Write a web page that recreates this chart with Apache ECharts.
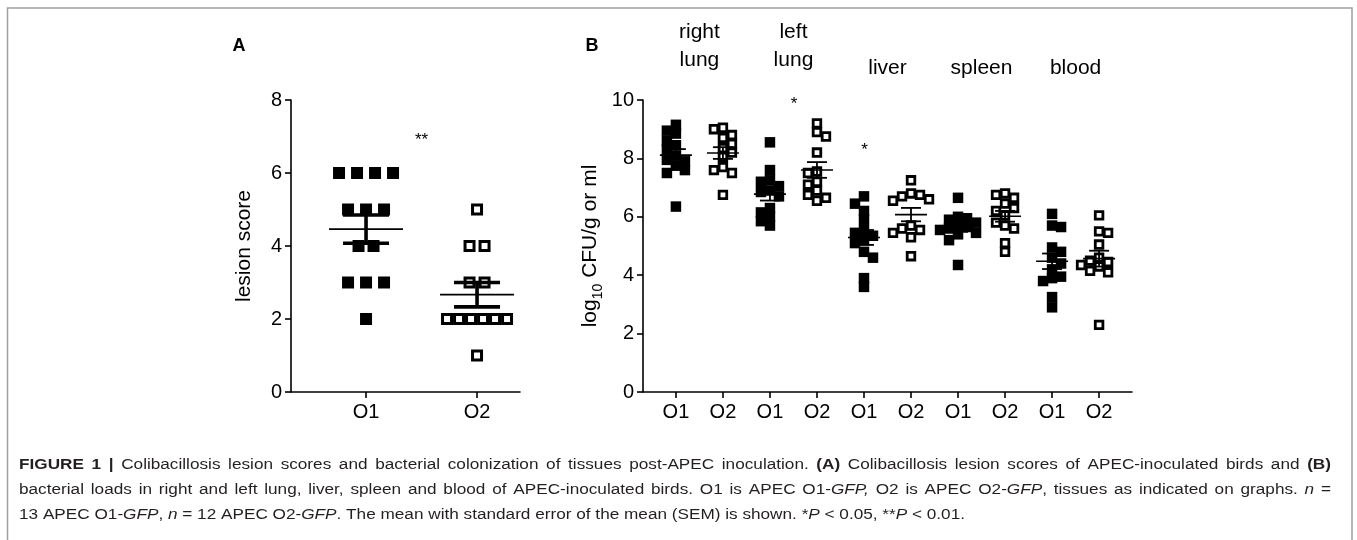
<!DOCTYPE html>
<html><head><meta charset="utf-8">
<script src="https://cdn.jsdelivr.net/npm/echarts@6.0.0/dist/echarts.min.js"></script>
<style>html,body{margin:0;padding:0;background:#fff}#c{width:1357px;height:540px}</style>
</head><body><div id="c"></div>
<script>
// ---------- Panel A data ----------
const lesionCats = ['O1', 'O2'];
const lesionO1 = [6, 6, 6, 6, 5, 5, 5, 4, 4, 3, 3, 3, 2];
const lesionO2 = [5, 4, 4, 3, 3, 2, 2, 2, 2, 2, 2, 1];
const lesionTicks = [0, 2, 4, 6, 8];

// ---------- Panel B data ----------
const tissueLabels = [['right', 'lung'], ['left', 'lung'], ['liver'], ['spleen'], ['blood']];
const strainLabels = ['O1', 'O2', 'O1', 'O2', 'O1', 'O2', 'O1', 'O2', 'O1', 'O2'];
const rightLungO1 = [9.15, 8.95, 8.85, 8.6, 8.45, 8.3, 8.1, 7.95, 7.9, 7.75, 7.6, 7.5, 6.35];
const rightLungO2 = [9.05, 9.0, 8.8, 8.7, 8.5, 8.35, 8.2, 8.05, 7.7, 7.6, 7.5, 6.75];
const leftLungO1 = [8.55, 7.6, 7.25, 7.2, 7.05, 6.9, 6.85, 6.7, 6.3, 6.15, 6.0, 5.85, 5.7];
const leftLungO2 = [9.2, 8.9, 8.75, 8.2, 7.55, 7.5, 7.2, 7.1, 6.9, 6.75, 6.65, 6.55];
const liverO1 = [6.7, 6.45, 6.2, 5.9, 5.55, 5.45, 5.35, 5.2, 5.1, 4.8, 4.6, 3.9, 3.6];
const liverO2 = [7.25, 6.8, 6.75, 6.7, 6.6, 6.55, 5.7, 5.6, 5.55, 5.45, 5.3, 4.65];
const spleenO1 = [6.65, 6.0, 5.95, 5.9, 5.8, 5.7, 5.65, 5.6, 5.55, 5.45, 5.4, 5.2, 4.35];
const spleenO2 = [6.8, 6.75, 6.65, 6.45, 6.3, 6.2, 6.05, 5.8, 5.7, 5.6, 5.1, 4.8];
const bloodO1 = [6.1, 5.7, 5.65, 4.95, 4.8, 4.6, 4.4, 4.2, 3.95, 3.9, 3.8, 3.25, 2.9];
const bloodO2 = [6.05, 5.5, 5.45, 5.05, 4.6, 4.5, 4.45, 4.35, 4.3, 4.15, 4.1, 2.3];
const cfuTicks = [0, 2, 4, 6, 8, 10];

// significance marks: [group position (x), y value, text]
const sigA = [[1.5, 7.0, '**']];
const sigB = [[3.5, 10.0, '*'], [5.0, 8.4, '*']];

// ---------- Caption ----------
const captionLines = [
  [['b', 'FIGURE 1 |'], ['n', ' Colibacillosis lesion scores and bacterial colonization of tissues post-APEC inoculation. '], ['b', '(A)'], ['n', ' Colibacillosis lesion scores of APEC-inoculated birds and '], ['b', '(B)']],
  [['n', 'bacterial loads in right and left lung, liver, spleen and blood of APEC-inoculated birds. O1 is APEC O1-'], ['i', 'GFP,'], ['n', ' O2 is APEC O2-'], ['i', 'GFP'], ['n', ', tissues as indicated on graphs. '], ['i', 'n'], ['n', ' =']],
  [['n', '13 APEC O1-'], ['i', 'GFP'], ['n', ', '], ['i', 'n'], ['n', ' = 12 APEC O2-'], ['i', 'GFP'], ['n', '. The mean with standard error of the mean (SEM) is shown. *'], ['i', 'P'], ['n', ' < 0.05, **'], ['i', 'P'], ['n', ' < 0.01.']]
];

// ================= layout =================
const FONT = '"Liberation Sans", Arial, sans-serif';
const gA = { left: 291, top: 100, width: 229, height: 292 };
const gB = { left: 643, top: 100, width: 489, height: 292 };
const xA = { min: 0.324, max: 0.324 + 229 / 111 };
const xB = { min: 0.3, max: 10.7 };
const pxXA = gA.width / (xA.max - xA.min);
const pxYA = gA.height / 8;
const pxXB = gB.width / (xB.max - xB.min);
const pxYB = gB.height / 10;

function mean(a) { return a.reduce((s, v) => s + v, 0) / a.length; }
function sem(a) { const m = mean(a); const v = a.reduce((s, x) => s + (x - m) * (x - m), 0) / (a.length - 1); return Math.sqrt(v / a.length); }

// Panel A: spread identical values in a row
function rowSpread(values, xc) {
  const groups = {};
  values.forEach((v, i) => { (groups[v] = groups[v] || []).push(i); });
  const out = [];
  Object.keys(groups).forEach(k => {
    const idx = groups[k]; const n = idx.length;
    const sp = n >= 5 ? 12 : (n === 2 ? 15 : 18);
    idx.forEach((ii, j) => { out.push([xc + ((j - (n - 1) / 2) * sp) / pxXA, values[ii]]); });
  });
  return out;
}

// Panel B: simple beeswarm in pixel space
function swarm(values, xc) {
  const order = values.map((v, i) => i).sort((a, b) => values[b] - values[a]);
  const placed = []; const out = [];
  const s = 8.5, step = 4.5;
  order.forEach((i, n) => {
    const y = values[i] * pxYB;
    const dir = n % 2 ? -1 : 1;
    let best = 0, bestScore = Infinity;
    for (let k = 0; k < 9; k++) {
      const cand = k === 0 ? 0 : (k % 2 ? dir : -dir) * Math.ceil(k / 2) * step;
      let ov = 0;
      placed.forEach(p => { const dx = Math.abs(p.x - cand), dy = Math.abs(p.y - y); if (dx < s && dy < s) ov += (s - dx) * (s - dy); });
      if (ov === 0) { best = cand; bestScore = 0; break; }
      const sc = ov + Math.abs(cand) * 2;
      if (sc < bestScore) { bestScore = sc; best = cand; }
    }
    placed.push({ x: best, y });
    out.push([xc + best / pxXB, values[i]]);
  });
  return out;
}

const groupsB = [rightLungO1, rightLungO2, leftLungO1, leftLungO2, liverO1, liverO2, spleenO1, spleenO2, bloodO1, bloodO2];
const ptsA1 = rowSpread(lesionO1, 1);
const ptsA2 = rowSpread(lesionO2, 2);
let ptsB1 = [], ptsB2 = [];
groupsB.forEach((g, i) => { const p = swarm(g, i + 1); if (i % 2 === 0) ptsB1 = ptsB1.concat(p); else ptsB2 = ptsB2.concat(p); });
const statsA = [[1, mean(lesionO1), sem(lesionO1)], [2, mean(lesionO2), sem(lesionO2)]];
const statsB = groupsB.map((g, i) => [i + 1, mean(g), sem(g)]);

function meanSem(hwMean, hwCap, lwMean, lwSem) {
  return function (params, api) {
    const x = api.value(0), m = api.value(1), se = api.value(2);
    const c = api.coord([x, m]), hi = api.coord([x, m + se]), lo = api.coord([x, m - se]);
    const st = { stroke: '#000', lineWidth: lwSem };
    return { type: 'group', children: [
      { type: 'line', shape: { x1: c[0] - hwMean, y1: c[1], x2: c[0] + hwMean, y2: c[1] }, style: { stroke: '#000', lineWidth: lwMean } },
      { type: 'line', shape: { x1: c[0], y1: hi[1], x2: c[0], y2: lo[1] }, style: st },
      { type: 'line', shape: { x1: c[0] - hwCap, y1: hi[1], x2: c[0] + hwCap, y2: hi[1] }, style: st },
      { type: 'line', shape: { x1: c[0] - hwCap, y1: lo[1], x2: c[0] + hwCap, y2: lo[1] }, style: st }
    ] };
  };
}

const axLine = { show: true, onZero: false, lineStyle: { color: '#000', width: 1.6 } };
const axTick = { show: true, length: 6, lineStyle: { color: '#000', width: 1.6 } };

// ----- graphic: frame, panel letters, tissue labels, asterisks, caption -----
const graphic = [];
graphic.push({ type: 'rect', shape: { x: 7.5, y: 8, width: 1344.5, height: 560 }, style: { fill: 'none', stroke: '#a0a0a0', lineWidth: 1.5 }, silent: true });
function txt(x, y, text, size, weight, align, va) {
  graphic.push({ type: 'text', x: x, y: y, silent: true, style: { text: text, fontSize: size, fontWeight: weight || 'normal', fontFamily: FONT, fill: '#000', align: align || 'center', verticalAlign: va || 'middle', textAlign: align || 'center', textVerticalAlign: va || 'middle' } });
}
txt(239, 46, 'A', 18, 'bold');
txt(592, 46, 'B', 18, 'bold');
const pxA = v => gA.left + (v - xA.min) * pxXA;
const pyA = v => gA.top + gA.height - v * pxYA;
const pxB = v => gB.left + (v - xB.min) * pxXB;
const pyB = v => gB.top + gB.height - v * pxYB;
tissueLabels.forEach((t, i) => {
  const cx = pxB(2 * i + 1.5);
  if (t.length === 2) { txt(cx, 32, t[0], 21); txt(cx, 60, t[1], 21); }
  else txt(cx, 68, t[0], 21);
});
sigA.forEach(s => txt(pxA(s[0]), pyA(s[1]) + 4, s[2], 17));
sigB.forEach(s => txt(pxB(s[0]) + 0.5, pyB(s[1]) + 4, s[2], 17));

// caption (first two lines justified)
const cv = document.createElement('canvas').getContext('2d');
function fontStr(st, size) { return (st === 'i' ? 'italic ' : '') + (st === 'b' ? 'bold ' : '') + size + 'px ' + FONT; }
function wordsOf(line) {
  const words = []; let cur = null;
  line.forEach(([st, t]) => {
    const parts = t.split(' ');
    parts.forEach((p, j) => {
      if (j > 0 || cur === null) { cur = []; words.push(cur); }
      if (p.length) cur.push({ t: p, st });
    });
  });
  return words.filter(w => w.length);
}
const capSize = 15.5;
function wWidth(w) { return w.reduce((s, p) => { cv.font = fontStr(p.st, capSize); return s + cv.measureText(p.t).width; }, 0); }
const capL = 19, capR = 1331, cap3End = 965;
cv.font = fontStr('n', capSize); const spaceW = cv.measureText(' ').width;
const w3 = wordsOf(captionLines[2]);
const nat3 = w3.reduce((s, w) => s + wWidth(w), 0) + spaceW * (w3.length - 1);
const sx = Math.max(0.8, Math.min(1.2, (cap3End - capL) / nat3));
const capYs = [465, 490, 515];
captionLines.forEach((line, li) => {
  const words = wordsOf(line);
  const widths = words.map(w => wWidth(w) * sx);
  const tot = widths.reduce((a, b) => a + b, 0);
  const gap = li < 2 ? (capR - capL - tot) / (words.length - 1) : spaceW * sx;
  let x = capL;
  words.forEach((w, wi) => {
    let xx = x;
    w.forEach(p => {
      graphic.push({ type: 'text', x: xx, y: capYs[li], scaleX: sx, silent: true, style: { text: p.t, fontSize: capSize, fontFamily: FONT, fontWeight: p.st === 'b' ? 'bold' : 'normal', fontStyle: p.st === 'i' ? 'italic' : 'normal', fill: '#231f20', align: 'left', verticalAlign: 'middle', textAlign: 'left', textVerticalAlign: 'middle' } });
      cv.font = fontStr(p.st, capSize); xx += cv.measureText(p.t).width * sx;
    });
    x += widths[wi] + gap;
  });
});

const chart = echarts.init(document.getElementById('c'), null, { renderer: 'canvas' });
chart.setOption({
  animation: false,
  backgroundColor: '#fff',
  textStyle: { fontFamily: FONT, color: '#000' },
  grid: [
    { left: gA.left, top: gA.top, width: gA.width, height: gA.height },
    { left: gB.left, top: gB.top, width: gB.width, height: gB.height }
  ],
  xAxis: [
    { gridIndex: 0, type: 'value', min: xA.min, max: xA.max, axisLine: axLine, axisTick: Object.assign({ customValues: [1, 2] }, axTick),
      axisLabel: { customValues: [1, 2], formatter: v => lesionCats[Math.round(v) - 1], fontSize: 20, color: '#000', margin: 10, fontFamily: FONT }, splitLine: { show: false } },
    { gridIndex: 1, type: 'value', min: xB.min, max: xB.max, axisLine: axLine, axisTick: Object.assign({ customValues: strainLabels.map((s, i) => i + 1) }, axTick),
      axisLabel: { customValues: strainLabels.map((s, i) => i + 1), formatter: v => strainLabels[Math.round(v) - 1], fontSize: 20, color: '#000', margin: 10, fontFamily: FONT }, splitLine: { show: false } }
  ],
  yAxis: [
    { gridIndex: 0, type: 'value', min: lesionTicks[0], max: lesionTicks[lesionTicks.length - 1], interval: 2, axisLine: axLine, axisTick: axTick,
      axisLabel: { fontSize: 20, color: '#000', margin: 9, fontFamily: FONT }, splitLine: { show: false },
      name: 'lesion score', nameLocation: 'middle', nameGap: 36, nameTextStyle: { fontSize: 21, color: '#000', fontFamily: FONT } },
    { gridIndex: 1, type: 'value', min: cfuTicks[0], max: cfuTicks[cfuTicks.length - 1], interval: 2, axisLine: axLine, axisTick: axTick,
      axisLabel: { fontSize: 20, color: '#000', margin: 9, fontFamily: FONT }, splitLine: { show: false },
      name: '{n|log}{s|10}{n| CFU/g or ml}', nameLocation: 'middle', nameGap: 38,
      nameTextStyle: { color: '#000', fontFamily: FONT, rich: { n: { fontSize: 21, lineHeight: 30, fontFamily: FONT, color: '#000' }, s: { fontSize: 14, lineHeight: 14, verticalAlign: 'bottom', fontFamily: FONT, color: '#000' } } } }
  ],
  series: [
    { type: 'scatter', xAxisIndex: 0, yAxisIndex: 0, data: ptsA1, symbol: 'rect', symbolSize: 12, itemStyle: { color: '#000', opacity: 1 }, z: 2 },
    { type: 'scatter', xAxisIndex: 0, yAxisIndex: 0, data: ptsA2, symbol: 'rect', symbolSize: 9, itemStyle: { color: '#fff', borderColor: '#000', borderWidth: 3, opacity: 1 }, z: 2 },
    { type: 'custom', xAxisIndex: 0, yAxisIndex: 0, data: statsA, renderItem: meanSem(37, 23, 1.6, 3.6), z: 5, silent: true },
    { type: 'scatter', xAxisIndex: 1, yAxisIndex: 1, data: ptsB1, symbol: 'rect', symbolSize: 10.5, itemStyle: { color: '#000', opacity: 1 }, z: 2 },
    { type: 'scatter', xAxisIndex: 1, yAxisIndex: 1, data: ptsB2, symbol: 'rect', symbolSize: 7.6, itemStyle: { color: '#fff', borderColor: '#000', borderWidth: 2.8, opacity: 1 }, z: 2 },
    { type: 'custom', xAxisIndex: 1, yAxisIndex: 1, data: statsB, renderItem: meanSem(16, 10, 1.6, 1.8), z: 5, silent: true }
  ],
  graphic: graphic
});
</script>
</body></html>
